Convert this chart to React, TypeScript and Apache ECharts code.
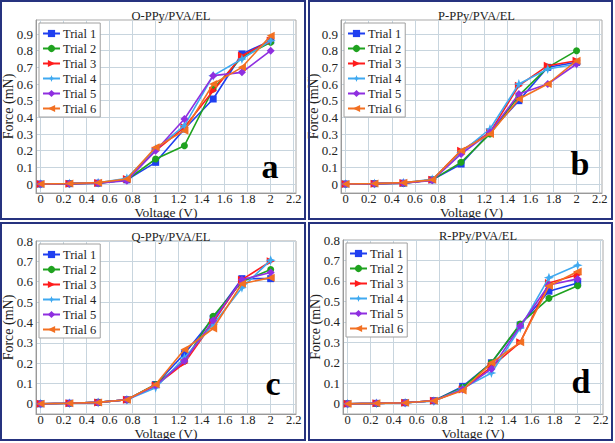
import React, { useEffect, useRef } from "react";
import * as echarts from "echarts";

const voltages = [0, 0.25, 0.5, 0.75, 1, 1.25, 1.5, 1.75, 2];
const trialNames = ["Trial 1", "Trial 2", "Trial 3", "Trial 4", "Trial 5", "Trial 6"];
const panelTitles = ["O-PPy/PVA/EL", "P-PPy/PVA/EL", "Q-PPy/PVA/EL", "R-PPy/PVA/EL"];
const panelLetters = ["a", "b", "c", "d"];
const xTicks = [0, 0.2, 0.4, 0.6, 0.8, 1, 1.2, 1.4, 1.6, 1.8, 2, 2.2];
const yTicksTop = [0, 0.1, 0.2, 0.3, 0.4, 0.5, 0.6, 0.7, 0.8, 0.9];
const yTicksBottom = [0, 0.1, 0.2, 0.3, 0.4, 0.5, 0.6, 0.7, 0.8];

// Force (mN) per trial, panel a (O-PPy/PVA/EL)
const forceO = [
  [0, 0.002, 0.005, 0.025, 0.13, 0.33, 0.51, 0.78, 0.86],
  [0, 0.002, 0.005, 0.025, 0.15, 0.23, 0.57, 0.76, 0.85],
  [0, 0.002, 0.006, 0.03, 0.2, 0.34, 0.56, 0.77, 0.86],
  [0, 0.003, 0.008, 0.035, 0.21, 0.35, 0.65, 0.75, 0.86],
  [0, 0.002, 0.005, 0.02, 0.2, 0.39, 0.65, 0.67, 0.8],
  [0, 0.003, 0.008, 0.03, 0.22, 0.32, 0.6, 0.7, 0.89],
];
// panel b (P-PPy/PVA/EL)
const forceP = [
  [0, 0.002, 0.005, 0.025, 0.12, 0.31, 0.5, 0.7, 0.73],
  [0, 0.002, 0.005, 0.025, 0.13, 0.3, 0.53, 0.7, 0.8],
  [0, 0.002, 0.006, 0.025, 0.2, 0.31, 0.59, 0.71, 0.74],
  [0, 0.003, 0.007, 0.028, 0.19, 0.33, 0.6, 0.69, 0.72],
  [0, 0.002, 0.005, 0.022, 0.18, 0.31, 0.54, 0.6, 0.72],
  [0, 0.003, 0.008, 0.025, 0.2, 0.3, 0.51, 0.6, 0.74],
];
// panel c (Q-PPy/PVA/EL)
const forceQ = [
  [0, 0.003, 0.007, 0.02, 0.095, 0.246, 0.42, 0.615, 0.615],
  [0, 0.003, 0.007, 0.02, 0.095, 0.21, 0.43, 0.6, 0.66],
  [0, 0.003, 0.007, 0.02, 0.09, 0.2, 0.4, 0.61, 0.7],
  [0, 0.003, 0.007, 0.02, 0.079, 0.226, 0.39, 0.57, 0.706],
  [0, 0.003, 0.007, 0.02, 0.09, 0.21, 0.41, 0.61, 0.645],
  [0, 0.003, 0.007, 0.02, 0.095, 0.267, 0.37, 0.59, 0.62],
];
// panel d (R-PPy/PVA/EL)
const forceR = [
  [0, 0.002, 0.005, 0.015, 0.085, 0.2, 0.385, 0.55, 0.59],
  [0, 0.002, 0.005, 0.015, 0.08, 0.2, 0.39, 0.515, 0.577],
  [0, 0.002, 0.005, 0.015, 0.07, 0.18, 0.3, 0.59, 0.63],
  [0, 0.002, 0.005, 0.012, 0.075, 0.15, 0.37, 0.616, 0.677],
  [0, 0.002, 0.005, 0.015, 0.07, 0.17, 0.38, 0.58, 0.61],
  [0, 0.002, 0.005, 0.015, 0.065, 0.2, 0.3, 0.575, 0.646],
];

const panelData = [forceO, forceP, forceQ, forceR];
const trialColors = ["#1f3ff0", "#1fa21f", "#ff1c1c", "#3fa9f0", "#8f2fe0", "#f27022"];
const trialSymbols = [
  "rect",
  "circle",
  "triangle",
  "path://M0,-10L2.6,-2.6L10,0L2.6,2.6L0,10L-2.6,2.6L-10,0L-2.6,-2.6Z",
  "diamond",
  "triangle",
];
const trialRotate = [0, 0, -90, 0, 0, 90];
const trialSymbolSize = [7, 7, 8, 10, 8, 8];

const FONT = "Liberation Serif";

const grids = [
  { left: 36, top: 20, width: 260, height: 173 },
  { left: 341, top: 20, width: 261, height: 173 },
  { left: 36, top: 241, width: 260, height: 173 },
  { left: 343, top: 240, width: 260, height: 174 },
];
const yRanges = [
  [-0.054, 0.984],
  [-0.054, 0.984],
  [-0.05, 0.8],
  [-0.05, 0.8],
];
const borders = [
  { x: 1, y: 1, width: 304, height: 218 },
  { x: 309, y: 1, width: 303, height: 218 },
  { x: 1, y: 223, width: 304, height: 217 },
  { x: 309, y: 223, width: 303, height: 217 },
];
const letterPos = [
  [270, 166],
  [580, 163],
  [273, 383],
  [581, 381],
];

const fmt = (v: number) => String(+Number(v).toFixed(2));

export default function App() {
  const ref = useRef<HTMLDivElement>(null);
  useEffect(() => {
    if (!ref.current) return;
    const chart = echarts.init(ref.current, null, { renderer: "svg" });
    const series: any[] = [];
    panelData.forEach((panel, p) => {
      panel.forEach((vals, t) => {
        series.push({
          type: "line",
          name: trialNames[t],
          xAxisIndex: p,
          yAxisIndex: p,
          data: voltages.map((v, i) => [v, vals[i]]),
          symbol: trialSymbols[t],
          symbolSize: trialSymbolSize[t],
          symbolRotate: trialRotate[t],
          color: trialColors[t],
          lineStyle: { width: 1.6, color: trialColors[t] },
          itemStyle: { color: trialColors[t] },
          z: 3 + t,
        });
      });
    });
    const label = { fontFamily: FONT, fontSize: 12.5, color: "#222", fontWeight: "normal" };
    const option: any = {
      animation: false,
      backgroundColor: "#ffffff",
      textStyle: { fontFamily: FONT },
      title: panelTitles.map((t, p) => ({
        text: t,
        left: grids[p].left + grids[p].width / 2,
        textAlign: "center",
        top: grids[p].top - 16,
        textStyle: { fontFamily: FONT, fontSize: 12.5, fontWeight: "normal", color: "#222" },
      })),
      legend: grids.map((g, p) => ({
        orient: "vertical",
        left: g.left + 3,
        top: g.top + 3,
        data: trialNames,
        backgroundColor: "#ffffff",
        borderColor: "#a0a0a0",
        borderWidth: 1,
        padding: [3, 4, 1, 3],
        itemGap: 0,
        itemWidth: 17,
        itemHeight: 9,
        textStyle: { fontFamily: FONT, fontSize: 12.5, color: "#222", padding: [0, 0, 0, -2], lineHeight: 15 },
        z: 20,
      })),
      grid: grids.map((g) => ({
        ...g,
        show: true,
        borderColor: "#a9a9a9",
        borderWidth: 1,
        backgroundColor: "transparent",
      })),
      xAxis: grids.map((g, p) => ({
        type: "value",
        gridIndex: p,
        min: -0.04,
        max: 2.22,
        name: "Voltage (V)",
        nameLocation: "middle",
        nameGap: 12,
        nameMoveOverlap: false,
        nameTextStyle: { ...label, fontSize: 13.5, lineHeight: 14 },
        axisLine: { show: true, onZero: false, lineStyle: { color: "#999" } },
        axisTick: { show: false, customValues: xTicks },
        axisLabel: { ...label, lineHeight: 11, customValues: xTicks, formatter: fmt, margin: 0 },
        splitLine: { show: true, lineStyle: { color: "#c8d5de", width: 1 } },
      })),
      yAxis: grids.map((g, p) => {
        const ticks = p < 2 ? yTicksTop : yTicksBottom;
        return {
          type: "value",
          gridIndex: p,
          min: yRanges[p][0],
          max: yRanges[p][1],
          name: "Force (mN)",
          nameLocation: "middle",
          nameGap: 21,
          nameMoveOverlap: false,
          nameTextStyle: { ...label, fontSize: 14 },
          axisLine: { show: true, onZero: false, lineStyle: { color: "#999" } },
          axisTick: { show: false, customValues: ticks },
          axisLabel: { ...label, fontSize: 13, customValues: ticks, formatter: fmt, margin: 3 },
          splitLine: { show: true, lineStyle: { color: "#c8d5de", width: 1 } },
        };
      }),
      graphic: [
        ...borders.map((b) => ({
          type: "rect",
          shape: b,
          style: { fill: "none", stroke: "#26337f", lineWidth: 2 },
          z: 30,
        })),
        ...panelLetters.map((l, p) => ({
          type: "text",
          x: letterPos[p][0],
          y: letterPos[p][1],
          style: {
            text: l,
            fontFamily: FONT,
            fontSize: 34,
            fontWeight: "bold",
            fill: "#000",
            textAlign: "center",
            textVerticalAlign: "middle",
          },
          z: 30,
        })),
      ],
      series,
    };
    chart.setOption(option);
    return () => chart.dispose();
  }, []);
  return (
    <div
      ref={ref}
      style={{ position: "absolute", left: 0, top: 0, width: 615, height: 443 }}
    />
  );
}
